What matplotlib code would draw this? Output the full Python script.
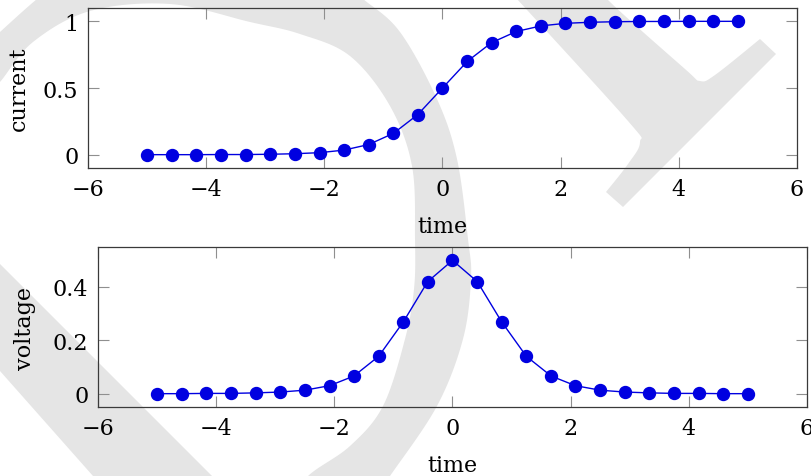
import matplotlib
matplotlib.use('Agg')
import matplotlib.pyplot as plt
import numpy as np
from matplotlib.patches import Polygon
from matplotlib.transforms import Affine2D

# ---------------- data ----------------
time = [-5.0, -4.58, -4.17, -3.75, -3.33, -2.92, -2.5, -2.08, -1.67, -1.25, -0.83, -0.42,
        0.0, 0.42, 0.83, 1.25, 1.67, 2.08, 2.5, 2.92, 3.33, 3.75, 4.17, 4.58, 5.0]
current = [0.0, 0.0, 0.0, 0.001, 0.001, 0.003, 0.007, 0.015, 0.034, 0.076, 0.16, 0.30,
           0.50, 0.70, 0.84, 0.924, 0.966, 0.985, 0.993, 0.997, 0.999, 0.999, 1.0, 1.0, 1.0]
voltage = [0.0, 0.0, 0.001, 0.001, 0.003, 0.006, 0.013, 0.030, 0.066, 0.14, 0.27, 0.42,
           0.50, 0.42, 0.27, 0.14, 0.066, 0.030, 0.013, 0.006, 0.003, 0.001, 0.001, 0.0, 0.0]

xticks = [-6, -4, -2, 0, 2, 4, 6]
xticklabels = ['\u22126', '\u22124', '\u22122', '0', '2', '4', '6']
current_ticks = [0, 0.5, 1]
current_ticklabels = ['0', '0.5', '1']
voltage_ticks = [0, 0.2, 0.4]
voltage_ticklabels = ['0', '0.2', '0.4']
xlabel = 'time'
ylabel_top = 'current'
ylabel_bottom = 'voltage'

# ---------------- style ----------------
W, H = 812, 477
plt.rcParams['font.family'] = ['DejaVu Serif']
FS = 16
LINE_COLOR = '#0000e0'
SPINE = '#3a3a3a'
TICKC = '#8f8f8f'
WM = '#e5e5e5'

fig = plt.figure(figsize=(W / 100, H / 100), dpi=100)
fig.patch.set_facecolor('white')

# transform: image pixels (x right, y down) -> figure
px = Affine2D().scale(1 / W, -1 / H).translate(0, 1) + fig.transFigure


def catmull(pts, n=14):
    pts = np.asarray(pts, float)
    out = []
    m = len(pts)
    for i in range(m - 1):
        p0 = pts[max(i - 1, 0)]
        p1 = pts[i]
        p2 = pts[i + 1]
        p3 = pts[min(i + 2, m - 1)]
        for t in np.linspace(0, 1, n, endpoint=False):
            t2, t3 = t * t, t * t * t
            out.append(0.5 * ((2 * p1) + (-p0 + p2) * t + (2 * p0 - 5 * p1 + 4 * p2 - p3) * t2
                              + (-p0 + 3 * p1 - 3 * p2 + p3) * t3))
    out.append(pts[-1])
    return np.array(out)


# ---- background watermark (decorative light-gray strokes) ----
outer = catmull([(-20, 52), (0, 33), (37, 0), (70, -25), (200, -55), (330, -25), (363, 0),
                 (400, 33), (437, 100), (457, 160), (468, 240), (471, 280), (463, 340),
                 (437, 407), (390, 477), (370, 505)])
inner = catmull([(290, 505), (308, 477), (350, 447), (383, 407), (405, 340), (414, 290),
                 (415, 240), (412, 167), (390, 107), (350, 57), (300, 35), (250, 23),
                 (170, 5), (90, 12), (33, 43), (0, 83), (-20, 103)])
arc = np.vstack([outer, inner])
stem = np.array([(-20, 245), (0, 265), (232, 497), (110, 497), (93, 477), (0, 372), (-20, 350)])
lshape_left = catmull([(607, -10), (607, 0), (685, 70), (700, 82), (715, 76), (760, 40)], n=10)
lshape_right = catmull([(606, 193), (628, 165), (640, 143), (628, 122), (517, 0), (508, -10)], n=10)
lshape = np.vstack([lshape_left, [(776, 55), (623, 208)], lshape_right])

for poly in (arc, stem, lshape):
    fig.patches.append(Polygon(poly, closed=True, transform=px, facecolor=WM,
                               edgecolor='none', zorder=-10))


def style_axes(ax, yt, ytl, ylim, ylab):
    ax.set_facecolor('none')
    ax.set_xlim(-6, 6)
    ax.set_ylim(*ylim)
    ax.set_xticks(xticks)
    ax.set_xticklabels(xticklabels)
    ax.set_yticks(yt)
    ax.set_yticklabels(ytl)
    ax.tick_params(direction='in', length=8, width=0.8, color=TICKC, top=True, right=True,
                   labelsize=FS, labelcolor='black')
    ax.tick_params(axis='x', pad=7)
    ax.tick_params(axis='y', pad=7)
    for s in ax.spines.values():
        s.set_color(SPINE)
        s.set_linewidth(0.9)
    ax.set_xlabel(xlabel, fontsize=FS)
    ax.set_ylabel(ylab, fontsize=FS)


# top axes
ax1 = fig.add_axes([88 / W, 1 - 169 / H, 709 / W, 160 / H])
ax1.plot(time, current, color=LINE_COLOR, lw=1.0, marker='o', ms=8.6,
         mfc=LINE_COLOR, mec=LINE_COLOR, zorder=3)
style_axes(ax1, current_ticks, current_ticklabels, (-0.1, 1.1), ylabel_top)
ax1.xaxis.set_label_coords(0.5, -(216 - 169) / 160)
ax1.yaxis.set_label_coords(-(88 - 30) / 709, 0.5)

# bottom axes
ax2 = fig.add_axes([98 / W, 1 - 408 / H, 709 / W, 160 / H])
ax2.plot(time, voltage, color=LINE_COLOR, lw=1.0, marker='o', ms=8.6,
         mfc=LINE_COLOR, mec=LINE_COLOR, zorder=3)
style_axes(ax2, voltage_ticks, voltage_ticklabels, (-0.05, 0.55), ylabel_bottom)
ax2.xaxis.set_label_coords(0.5, -(455 - 408) / 160)
ax2.yaxis.set_label_coords(-(98 - 36) / 709, 0.5)

fig.savefig('out.png', dpi=100)
